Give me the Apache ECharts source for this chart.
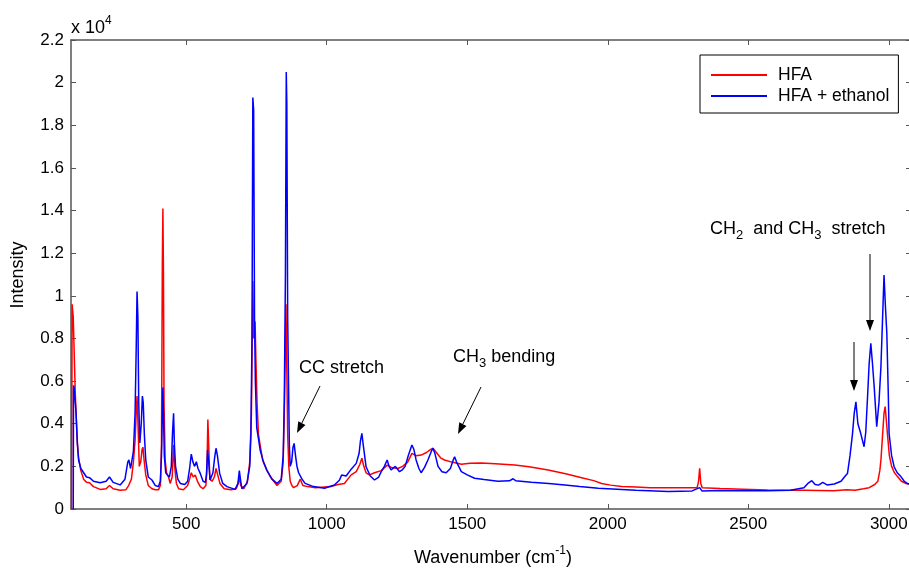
<!DOCTYPE html>
<html>
<head>
<meta charset="UTF-8">
<title>Raman spectra HFA</title>
<script src="https://cdn.jsdelivr.net/npm/echarts@6/dist/echarts.min.js"></script>
<style>
  html, body { margin: 0; padding: 0; background: #fff; }
  #main { width: 909px; height: 570px; }
</style>
</head>
<body>
<div id="main"></div>
<script>
// tick positions on the wavenumber axis
var xTicks = [500, 1000, 1500, 2000, 2500, 3000];

// [wavenumber, intensity]
var hfa = [
  [92,0],[94,9600],[98,9000],[101,7500],[105,5500],[108,4500],[112,3200],[117,2400],[125,1800],[135,1400],
  [145,1250],[156,1230],[170,1050],[194,920],[215,950],[227,1100],[240,950],[265,880],[285,900],[295,1100],
  [305,1400],[312,2200],[318,3200],[322,4500],[325,5300],[328,4200],[333,2000],[338,2200],[343,2800],[346,2900],
  [350,2300],[356,1600],[365,1100],[378,950],[390,900],[401,900],[408,1100],[412,3000],[415,11500],[417,14100],
  [419,11000],[421,5000],[425,2300],[430,1700],[437,1500],[443,1200],[450,1500],[455,3000],[459,2000],[465,1200],
  [473,950],[490,900],[505,1100],[512,1400],[518,1700],[525,1500],[532,1600],[540,1300],[550,1050],[560,950],
  [570,1100],[574,2000],[577,4200],[580,3000],[584,1400],[592,1300],[600,1500],[606,1900],[612,1600],[620,1200],
  [635,950],[660,900],[678,950],[685,1200],[689,1500],[694,1100],[705,950],[718,1300],[726,2200],[732,4500],
  [737,10700],[740,8000],[745,8800],[748,7000],[752,5000],[757,3500],[763,3000],[772,2300],[787,1800],[800,1500],
  [823,1100],[838,1300],[845,2200],[849,4500],[852,7000],[855,9600],[858,6500],[861,3500],[865,2000],[870,1300],
  [876,1100],[882,1000],[895,1100],[906,1400],[915,1100],[932,1050],[960,1000],[1015,1050],[1040,1150],[1063,1200],
  [1075,1400],[1087,1600],[1105,1750],[1118,2100],[1125,2380],[1132,2000],[1140,1700],[1152,1600],[1170,1700],[1194,1800],
  [1215,2060],[1230,1950],[1253,1900],[1270,2000],[1288,2200],[1303,2610],[1318,2500],[1336,2530],[1355,2650],[1370,2800],
  [1378,2850],[1390,2650],[1405,2400],[1419,2300],[1445,2200],[1479,2100],[1510,2150],[1550,2160],[1600,2120],[1669,2060],
  [1720,1980],[1788,1830],[1850,1650],[1907,1470],[1950,1330],[1978,1200],[2010,1120],[2050,1050],[2100,1030],[2150,1000],
  [2215,1000],[2280,1000],[2318,1000],[2323,1300],[2327,1910],[2331,1200],[2336,1000],[2400,960],[2480,930],[2568,890],
  [2650,880],[2700,880],[2750,870],[2804,860],[2850,900],[2880,880],[2910,950],[2930,1000],[2950,1150],[2961,1300],
  [2968,1800],[2972,2300],[2978,3500],[2983,4500],[2987,4800],[2991,4200],[2995,3550],[3002,2500],[3010,2000],[3020,1700],
  [3031,1520],[3045,1300],[3060,1200],[3079,1150]
];

var hfaEthanol = [
  [98,0],[99,5800],[101,5700],[104,5200],[108,4500],[113,3000],[117,2300],[125,1900],[135,1700],[145,1500],
  [156,1470],[170,1300],[194,1230],[215,1300],[227,1500],[240,1250],[265,1130],[282,1400],[292,2200],[296,2300],
  [302,1900],[307,1950],[312,2700],[318,4500],[322,7500],[325,10200],[328,9000],[331,5000],[335,3100],[340,4000],
  [344,5300],[347,5000],[351,3500],[356,2300],[365,1500],[378,1360],[390,1100],[401,1050],[408,1300],[412,2500],
  [415,4500],[417,5700],[419,4500],[422,2500],[427,1700],[433,1600],[440,1500],[447,2000],[451,3500],[455,4490],
  [458,3000],[462,2000],[470,1400],[479,1200],[495,1150],[505,1300],[512,1900],[518,2570],[524,2200],[530,2000],
  [536,2220],[542,1900],[550,1670],[560,1300],[568,1250],[572,1600],[576,2770],[580,2200],[585,1360],[595,1700],
  [601,2400],[606,2850],[611,2500],[619,1670],[630,1200],[645,1050],[674,920],[684,1200],[689,1800],[694,1300],
  [698,950],[716,1200],[726,2000],[730,3400],[734,8000],[737,19300],[740,18700],[743,9000],[746,6000],[751,3800],
  [757,3300],[763,2770],[775,2200],[787,1830],[805,1400],[823,1200],[838,1400],[845,2500],[849,5100],[853,11000],
  [856,20500],[858,19000],[861,9000],[864,5900],[867,3000],[870,2000],[875,2200],[880,2900],[884,3080],[888,2600],
  [894,2000],[900,1700],[906,1750],[912,1400],[923,1200],[953,1050],[992,970],[1027,1125],[1045,1350],[1053,1590],
  [1069,1550],[1087,1870],[1105,2140],[1115,2600],[1120,3200],[1125,3550],[1130,3000],[1140,1980],[1155,1550],[1170,1360],
  [1185,1500],[1194,1750],[1205,2000],[1215,2300],[1222,2000],[1229,1830],[1244,2000],[1259,1750],[1270,1850],[1279,2000],
  [1290,2500],[1303,3000],[1310,2800],[1318,2300],[1328,1900],[1336,1700],[1348,1950],[1360,2300],[1372,2700],[1378,2850],
  [1385,2600],[1396,2000],[1410,1750],[1425,1700],[1440,1900],[1450,2300],[1455,2450],[1462,2200],[1479,1750],[1500,1600],
  [1526,1440],[1560,1380],[1609,1300],[1650,1320],[1663,1420],[1672,1330],[1728,1250],[1790,1200],[1847,1130],[1900,1050],
  [1966,970],[2000,950],[2100,880],[2215,820],[2300,850],[2327,1000],[2335,850],[2400,870],[2500,860],[2568,860],
  [2650,880],[2698,1000],[2712,1200],[2726,1330],[2738,1150],[2750,1120],[2765,1250],[2780,1130],[2806,1170],[2830,1300],
  [2845,1550],[2853,1670],[2862,2500],[2871,3550],[2877,4500],[2883,5030],[2890,4000],[2900,3550],[2912,2920],[2918,3600],
  [2924,5160],[2930,6800],[2936,7770],[2942,6800],[2948,5740],[2957,3860],[2965,5000],[2972,6680],[2978,9000],[2983,10970],
  [2988,9500],[2993,8240],[2998,5500],[3001,3550],[3010,2500],[3019,1980],[3030,1700],[3043,1520],[3055,1300],[3066,1200],
  [3079,1150]
];

var font = '"Liberation Sans", Arial, sans-serif';
var axisColor = '#555';

var myChart = echarts.init(document.getElementById('main'));

// arrow = shaft + small filled head
function arrow(x1, y1, x2, y2) {
  var a = Math.atan2(y2 - y1, x2 - x1), L = 11, W = 4;
  var bx = x2 - L * Math.cos(a), by = y2 - L * Math.sin(a);
  return [
    { type: 'line', shape: { x1: x1, y1: y1, x2: bx, y2: by }, style: { stroke: '#000', lineWidth: 1 } },
    { type: 'polygon', shape: { points: [[x2, y2],
        [bx + W * Math.sin(a), by - W * Math.cos(a)],
        [bx - W * Math.sin(a), by + W * Math.cos(a)]] }, style: { fill: '#000' } }
  ];
}

var rich = {
  n: { fontSize: 18, fontFamily: font, color: '#000', lineHeight: 26 },
  sub: { fontSize: 13, fontFamily: font, color: '#000', lineHeight: 26, verticalAlign: 'bottom' },
  sup: { fontSize: 12, fontFamily: font, color: '#000', lineHeight: 26, verticalAlign: 'top' }
};

function label(x, y, text, align) {
  return { type: 'text', x: x, y: y, style: { text: text, rich: rich, align: align || 'left', verticalAlign: 'middle' } };
}

var graphics = [
  label(71, 28, '{n|x 10}{sup|4}'),
  label(493, 558, '{n|Wavenumber (cm}{sup|-1}{n|)}', 'center'),
  { type: 'text', x: 18, y: 275, rotation: Math.PI / 2,
    style: { text: 'Intensity', fontSize: 18, fontFamily: font, fill: '#000', align: 'center', verticalAlign: 'middle' } },
  label(299, 368, '{n|CC stretch}'),
  label(453, 357, '{n|CH}{sub|3}{n| bending}'),
  label(710, 229, '{n|CH}{sub|2}{n|  and CH}{sub|3}{n|  stretch}')
].concat(arrow(320, 386, 297, 433))
 .concat(arrow(481, 387, 458, 434))
 .concat(arrow(854, 342, 854, 391))
 .concat(arrow(870, 254, 870, 331));

var option = {
  animation: false,
  grid: { left: 71, right: -2, top: 40, bottom: 61, outerBoundsMode: 'none' },
  legend: {
    orient: 'vertical', left: 700, top: 55,
    data: ['HFA', 'HFA + ethanol'],
    icon: 'rect', itemWidth: 56, itemHeight: 2, itemGap: 3,
    padding: [11, 9, 8, 11],
    borderColor: '#000', borderWidth: 1, backgroundColor: '#fff',
    textStyle: { fontSize: 17.5, fontFamily: font, color: '#000', padding: [0, 0, 0, 6] }
  },
  xAxis: [
    {
      type: 'value', min: 90, max: 3079, position: 'bottom',
      axisLine: { show: true, onZero: false, lineStyle: { color: axisColor, width: 1.5 } },
      axisTick: { show: true, inside: true, length: 5, customValues: xTicks, lineStyle: { color: axisColor } },
      axisLabel: { customValues: xTicks, color: '#000', fontSize: 17, fontFamily: font, margin: 7,
        formatter: function (v) { return String(v); } },
      splitLine: { show: false }
    },
    {
      type: 'value', min: 90, max: 3079, position: 'top',
      axisLine: { show: true, onZero: false, lineStyle: { color: axisColor, width: 1.5 } },
      axisTick: { show: true, inside: true, length: 5, customValues: xTicks, lineStyle: { color: axisColor } },
      axisLabel: { show: false },
      splitLine: { show: false }
    }
  ],
  yAxis: [
    {
      type: 'value', min: 0, max: 22000, interval: 2000, position: 'left',
      axisLine: { show: true, onZero: false, lineStyle: { color: axisColor, width: 1.5 } },
      axisTick: { show: true, inside: true, length: 5, lineStyle: { color: axisColor } },
      axisLabel: { color: '#000', fontSize: 17, fontFamily: font, margin: 7,
        formatter: function (v) { return String(+(v / 1e4).toFixed(1)); } },
      splitLine: { show: false }
    },
    {
      type: 'value', min: 0, max: 22000, interval: 2000, position: 'right',
      axisLine: { show: true, onZero: false, lineStyle: { color: axisColor, width: 1.5 } },
      axisTick: { show: true, inside: true, length: 5, lineStyle: { color: axisColor } },
      axisLabel: { show: false },
      splitLine: { show: false }
    }
  ],
  series: [
    { name: 'HFA', type: 'line', data: hfa, showSymbol: false, symbol: 'none',
      lineStyle: { color: '#ff0000', width: 1.5 }, itemStyle: { color: '#ff0000' } },
    { name: 'HFA + ethanol', type: 'line', data: hfaEthanol, showSymbol: false, symbol: 'none',
      lineStyle: { color: '#0000ff', width: 1.5 }, itemStyle: { color: '#0000ff' } }
  ],
  graphic: graphics
};

myChart.setOption(option);
</script>
</body>
</html>
